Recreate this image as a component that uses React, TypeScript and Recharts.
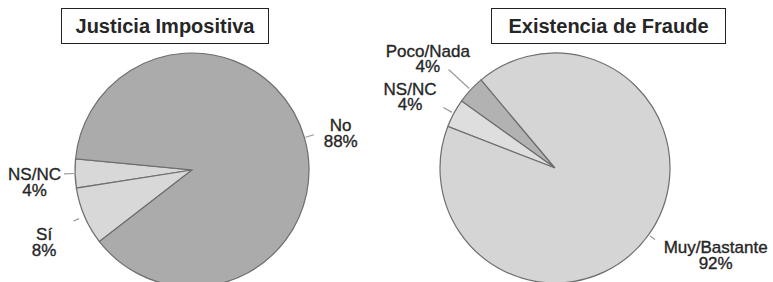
import React from "react";
import { Cell, Pie, PieChart } from "recharts";

const justiciaNames = ["NS/NC", "Sí", "No"];
const justiciaValues = [4, 8, 88];
const justiciaColors = ["#d8d8d8", "#d8d8d8", "#ababab"];

const fraudeNames = ["Poco/Nada", "NS/NC", "Muy/Bastante"];
const fraudeValues = [4, 4, 92];
const fraudeColors = ["#b2b2b2", "#dedede", "#d5d5d5"];

const justiciaData = justiciaNames.map((name, i) => ({ name, value: justiciaValues[i] }));
const fraudeData = fraudeNames.map((name, i) => ({ name, value: fraudeValues[i] }));

const RADIAN = Math.PI / 180;
const FONT = "'Liberation Sans', Arial, Helvetica, sans-serif";

type LabelPos = { gap: number; turn: number; tick: number[]; lh: number };

// gap: distance of label centre past the rim, turn: angle nudge, tick: leader from/to past rim
function makeLabel(pos: LabelPos[]) {
  return (props: any) => {
    const { cx, cy, midAngle, outerRadius, index, name, value } = props;
    const p = pos[index];
    const a = -(midAngle + p.turn) * RADIAN;
    const r = outerRadius + p.gap;
    const x = cx + r * Math.cos(a);
    const y = cy + r * Math.sin(a);
    const la = -midAngle * RADIAN;
    const [l0, l1] = p.tick;
    return (
      <g>
        <line
          x1={cx + (outerRadius + l0) * Math.cos(la)}
          y1={cy + (outerRadius + l0) * Math.sin(la)}
          x2={cx + (outerRadius + l1) * Math.cos(la)}
          y2={cy + (outerRadius + l1) * Math.sin(la)}
          stroke="#9a9a9a"
          strokeWidth={1.2}
        />
        <text
          x={x}
          y={y}
          textAnchor="middle"
          fontFamily={FONT}
          fontSize={17}
          fill="#262626"
          stroke="#262626"
          strokeWidth={0.35}
        >
          <tspan x={x} dy={-3}>{name}</tspan>
          <tspan x={x} dy={p.lh}>{value}%</tspan>
        </text>
      </g>
    );
  };
}

const justiciaPos: LabelPos[] = [
  { gap: 41, turn: 3, tick: [1, 11], lh: 16 },
  { gap: 48, turn: 3, tick: [6, 12], lh: 16 },
  { gap: 36, turn: -2.5, tick: [1, 10], lh: 16 },
];
const fraudePos: LabelPos[] = [
  { gap: 52, turn: 2.4, tick: [2, 30], lh: 15 },
  { gap: 46, turn: 2.6, tick: [2, 12], lh: 15 },
  { gap: 68, turn: 7, tick: [2, 8], lh: 16 },
];

const titleStyle: React.CSSProperties = {
  position: "absolute",
  top: 8,
  height: 34,
  border: "1.5px solid #222",
  background: "#fff",
  fontFamily: FONT,
  fontWeight: "bold",
  fontSize: 20,
  color: "#262626",
  display: "flex",
  alignItems: "center",
  justifyContent: "center",
  boxSizing: "content-box",
};

export default function App() {
  return (
    <div style={{ position: "absolute", left: 0, top: 0, width: 773, height: 282, background: "#fff", overflow: "hidden" }}>
      <PieChart width={773} height={282} margin={{ top: 0, right: 0, bottom: 0, left: 0 }}>
        <Pie
          data={justiciaData}
          dataKey="value"
          nameKey="name"
          cx={192}
          cy={170}
          outerRadius={117}
          startAngle={174.5}
          endAngle={534.5}
          stroke="#6e6e6e"
          strokeWidth={1.2}
          isAnimationActive={false}
          labelLine={false}
          label={makeLabel(justiciaPos)}
        >
          {justiciaData.map((d, i) => (
            <Cell key={d.name} fill={justiciaColors[i]} />
          ))}
        </Pie>
        <Pie
          data={fraudeData}
          dataKey="value"
          nameKey="name"
          cx={555}
          cy={168}
          outerRadius={115}
          startAngle={130}
          endAngle={490}
          stroke="#6e6e6e"
          strokeWidth={1.2}
          isAnimationActive={false}
          labelLine={false}
          label={makeLabel(fraudePos)}
        >
          {fraudeData.map((d, i) => (
            <Cell key={d.name} fill={fraudeColors[i]} />
          ))}
        </Pie>
      </PieChart>
      <div style={{ ...titleStyle, left: 61, width: 206 }}>Justicia Impositiva</div>
      <div style={{ ...titleStyle, left: 491, width: 233 }}>Existencia de Fraude</div>
    </div>
  );
}
